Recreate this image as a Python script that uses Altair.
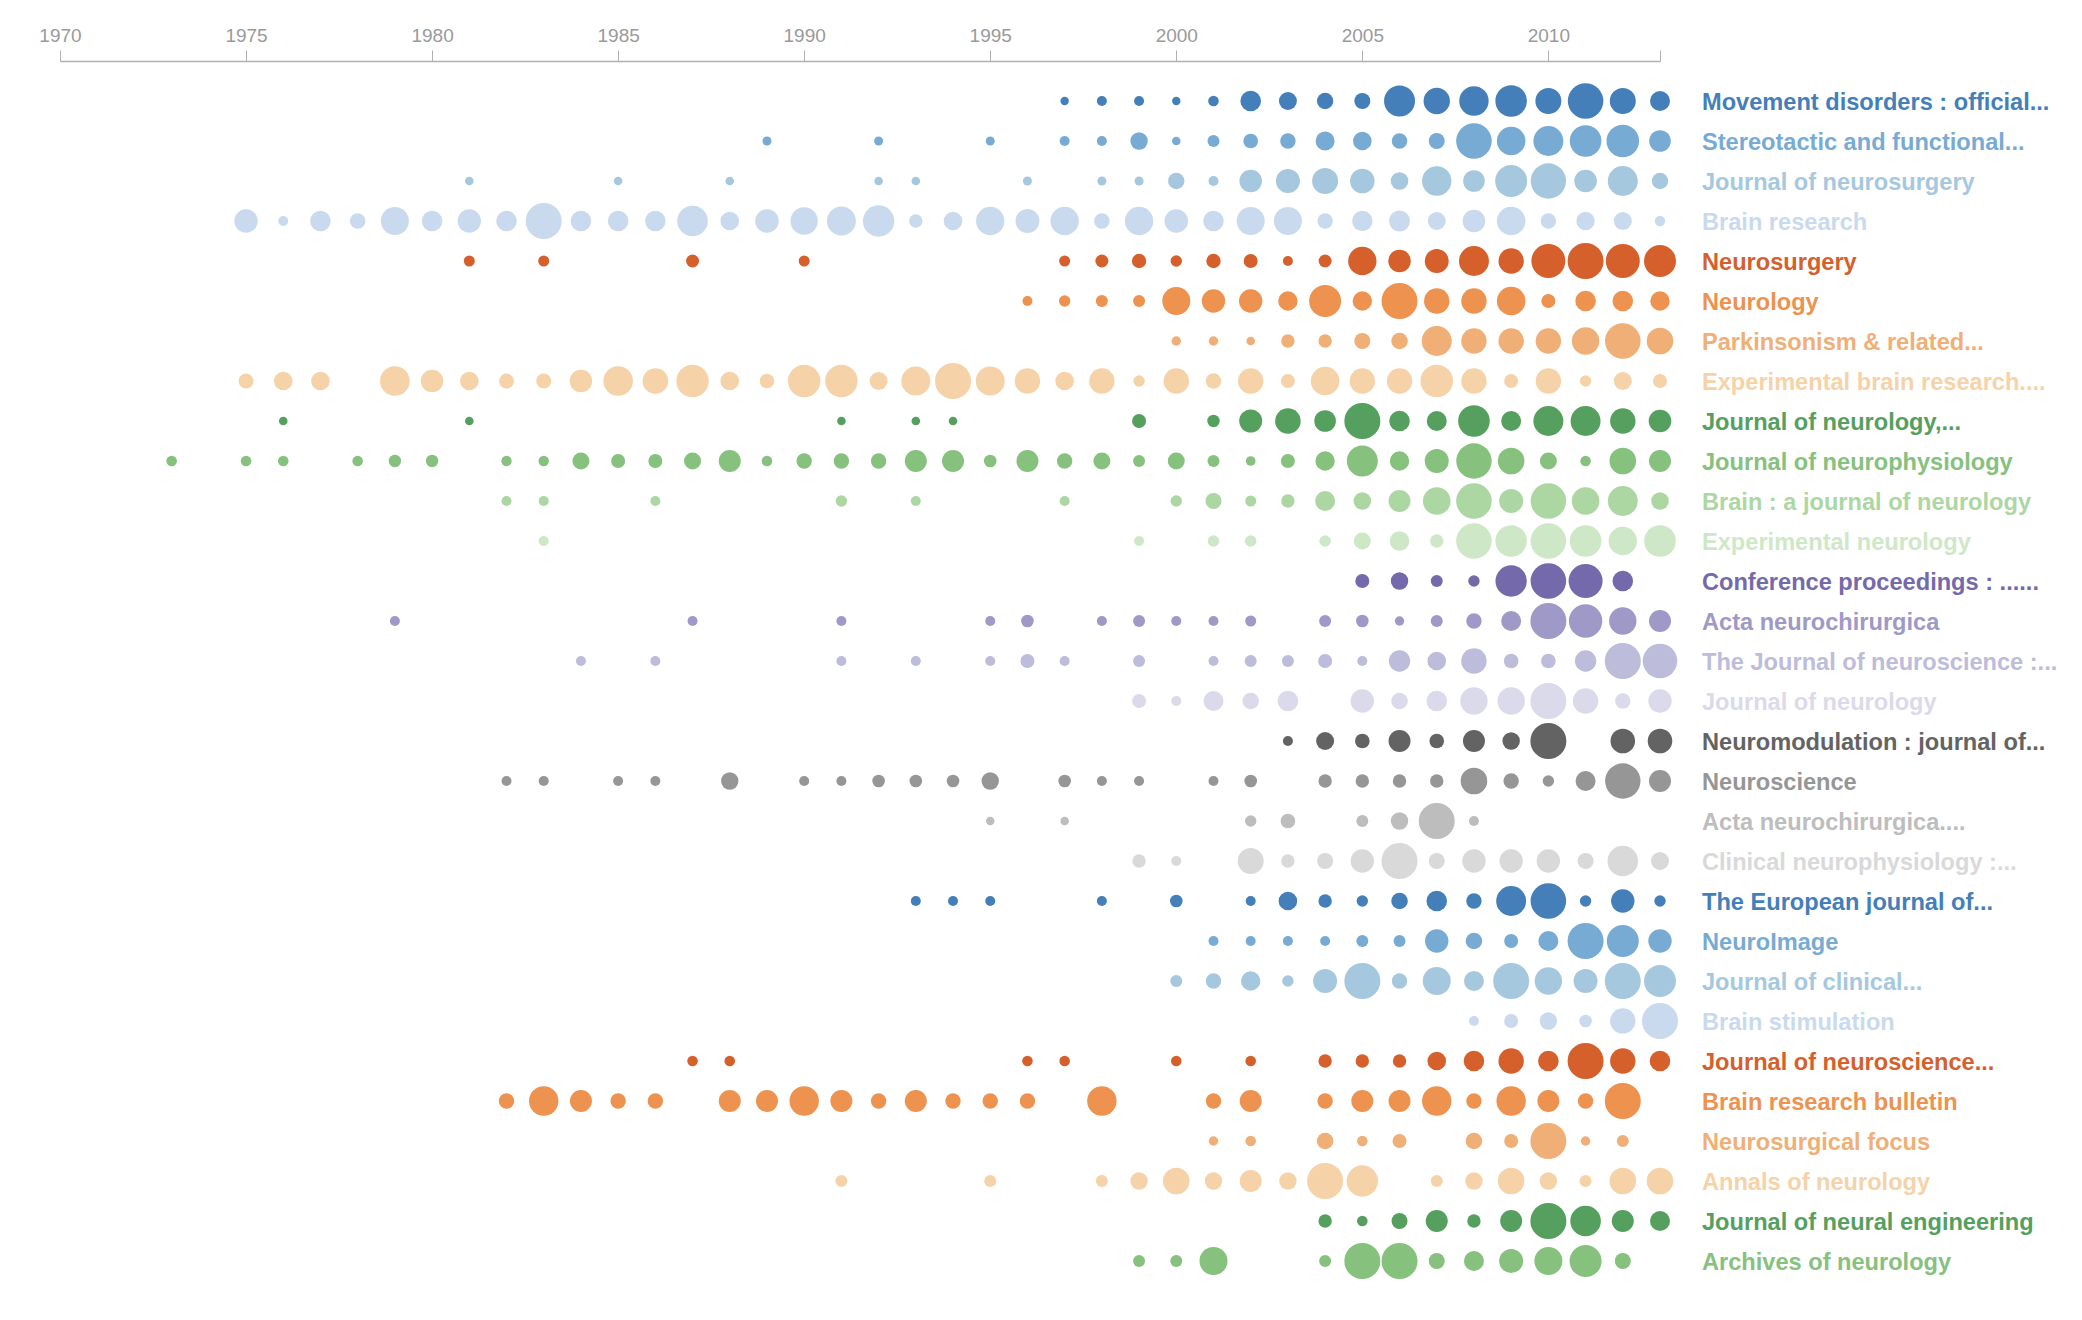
import altair as alt
import pandas as pd

journals = [
    "Movement disorders : official...",
    "Stereotactic and functional...",
    "Journal of neurosurgery",
    "Brain research",
    "Neurosurgery",
    "Neurology",
    "Parkinsonism & related...",
    "Experimental brain research....",
    "Journal of neurology,...",
    "Journal of neurophysiology",
    "Brain : a journal of neurology",
    "Experimental neurology",
    "Conference proceedings : ......",
    "Acta neurochirurgica",
    "The Journal of neuroscience :...",
    "Journal of neurology",
    "Neuromodulation : journal of...",
    "Neuroscience",
    "Acta neurochirurgica....",
    "Clinical neurophysiology :...",
    "The European journal of...",
    "NeuroImage",
    "Journal of clinical...",
    "Brain stimulation",
    "Journal of neuroscience...",
    "Brain research bulletin",
    "Neurosurgical focus",
    "Annals of neurology",
    "Journal of neural engineering",
    "Archives of neurology",
]

colors = [
    "#447fb9", "#78abd3", "#a6c8de", "#cadaee",
    "#d5602c", "#ed924f", "#f0af77", "#f6d2a8",
    "#55a05e", "#86c17e", "#acd7a3", "#cee8c7",
    "#746aab", "#9e99c6", "#bdbcda", "#dbdaea",
    "#636363", "#969696", "#bdbdbd", "#d9d9d9",
    "#447fb9", "#78abd3", "#a6c8de", "#cadaee",
    "#d5602c", "#ed924f", "#f0af77", "#f6d2a8",
    "#55a05e", "#86c17e",
]

# (year, relative article volume) per journal
movement = [(1997,4.2),(1998,5),(1999,5),(2000,4.2),(2001,5.3),(2002,10.3),(2003,9),(2004,8.2),(2005,8),(2006,15.5),(2007,13.2),(2008,14.7),(2009,15.8),(2010,13),(2011,17.8),(2012,13),(2013,10)]
stereotactic = [(1989,4.5),(1992,4.5),(1995,4.5),(1997,5),(1998,5),(1999,8.7),(2000,4.3),(2001,6),(2002,7.3),(2003,7.7),(2004,9.5),(2005,9.3),(2006,7.8),(2007,8),(2008,17.8),(2009,14.3),(2010,15),(2011,15.8),(2012,16.3),(2013,10.8)]
jneurosurg = [(1981,4.3),(1985,4.3),(1988,4.3),(1992,4.3),(1993,4.3),(1996,4.5),(1998,4.5),(1999,4.5),(2000,8.2),(2001,5),(2002,11.3),(2003,12),(2004,13),(2005,12.3),(2006,8.8),(2007,14.7),(2008,10.8),(2009,16),(2010,17.7),(2011,11.3),(2012,15),(2013,8.2)]
brainres = [(1975,11.7),(1976,5),(1977,10.3),(1978,7.8),(1979,14),(1980,10.3),(1981,11.7),(1982,10.3),(1983,18),(1984,10.3),(1985,10.3),(1986,10.3),(1987,15.3),(1988,9.3),(1989,11.8),(1990,13.7),(1991,14.5),(1992,15.7),(1993,6.7),(1994,9.3),(1995,14.2),(1996,12),(1997,14.2),(1998,7.8),(1999,14.2),(2000,11.8),(2001,10.3),(2002,14),(2003,14),(2004,7.7),(2005,10.2),(2006,10.5),(2007,9),(2008,11.3),(2009,14.3),(2010,7.7),(2011,9.2),(2012,9),(2013,5.2)]
neurosurgery = [(1981,5.5),(1983,5.5),(1987,6.5),(1990,5.5),(1997,5.5),(1998,6.5),(1999,7.2),(2000,5.7),(2001,7.2),(2002,7),(2003,5),(2004,6.5),(2005,14.2),(2006,11.3),(2007,12),(2008,15),(2009,12.7),(2010,17),(2011,18),(2012,17),(2013,16)]
neurology = [(1996,5),(1997,5.7),(1998,6),(1999,6),(2000,14),(2001,11.7),(2002,11.7),(2003,9.7),(2004,16),(2005,9.7),(2006,18),(2007,12.7),(2008,12.7),(2009,14.3),(2010,7),(2011,10.3),(2012,10.3),(2013,9.7)]
parkinsonism = [(2000,4.7),(2001,4.7),(2002,4.3),(2003,6.7),(2004,6.7),(2005,8),(2006,8.3),(2007,15),(2008,12.7),(2009,12.7),(2010,12.7),(2011,13.7),(2012,17.8),(2013,13.3)]
expbrain = [(1975,7.5),(1976,9.3),(1977,9.3),(1979,14.8),(1980,11.2),(1981,9.3),(1982,7.5),(1983,7.5),(1984,11.2),(1985,14.8),(1986,12.8),(1987,16.2),(1988,9.3),(1989,7.3),(1990,16.2),(1991,16.2),(1992,9),(1993,14.5),(1994,18),(1995,14.5),(1996,12.7),(1997,9.3),(1998,12.7),(1999,5.7),(2000,12.7),(2001,7.7),(2002,12.7),(2003,7),(2004,14.3),(2005,12.7),(2006,12.7),(2007,16.3),(2008,12.7),(2009,7),(2010,12.7),(2011,5.7),(2012,9),(2013,7)]
jneurology_c = [(1976,4.3),(1981,4.3),(1991,4.3),(1993,4.3),(1994,4.3),(1999,7),(2001,6.2),(2002,11.5),(2003,12.8),(2004,10.8),(2005,18),(2006,10.3),(2007,10),(2008,15.8),(2009,10),(2010,15),(2011,15),(2012,12.7),(2013,11.3)]
jneurophys = [(1973,5.3),(1975,5.3),(1976,5.3),(1978,5.3),(1979,6.2),(1980,6.2),(1982,5.2),(1983,5.2),(1984,8.5),(1985,7),(1986,7),(1987,8.5),(1988,11),(1989,5.3),(1990,7.7),(1991,7.7),(1992,7.7),(1993,11),(1994,11),(1995,6.3),(1996,11),(1997,7.7),(1998,8.5),(1999,6),(2000,8.5),(2001,6),(2002,4.8),(2003,7),(2004,9.7),(2005,15.5),(2006,9.7),(2007,12),(2008,17.7),(2009,13.3),(2010,8.5),(2011,5.3),(2012,13.3),(2013,11)]
brainjournal = [(1982,5),(1983,5),(1986,5),(1991,5.7),(1993,5),(1997,5),(2000,5.7),(2001,8),(2002,5.5),(2003,6.7),(2004,10),(2005,8.8),(2006,11),(2007,13.8),(2008,17.8),(2009,12),(2010,17.8),(2011,13.8),(2012,15),(2013,8.8)]
expneuro = [(1983,5),(1999,5),(2001,5.8),(2002,5.8),(2004,5.8),(2005,8.5),(2006,9.8),(2007,6.7),(2008,17.8),(2009,15.8),(2010,17.8),(2011,15.8),(2012,14.2),(2013,15.8)]
confproc = [(2005,7),(2006,8.7),(2007,6),(2008,5.7),(2009,15.7),(2010,17.8),(2011,17),(2012,10.3)]
acta = [(1979,5),(1987,5),(1991,5),(1995,5),(1996,6.3),(1998,5),(1999,6),(2000,5),(2001,5),(2002,5.5),(2004,6),(2005,6.3),(2006,4.7),(2007,6),(2008,7.7),(2009,10),(2010,18),(2011,16.7),(2012,13.7),(2013,11)]
jneurosci_c = [(1984,5),(1986,5),(1991,5),(1993,5),(1995,5),(1996,7),(1997,5),(1999,6),(2001,5),(2002,6),(2003,6),(2004,7),(2005,5),(2006,10.7),(2007,9.3),(2008,12.7),(2009,7.3),(2010,7.3),(2011,10.7),(2012,18),(2013,17.3)]
jneurology = [(1999,7),(2000,5),(2001,10),(2002,8.3),(2003,10.3),(2005,11.7),(2006,8.3),(2007,10.3),(2008,13.7),(2009,13.7),(2010,18),(2011,12.7),(2012,7.7),(2013,11.7)]
neuromod = [(2003,5),(2004,9),(2005,7.3),(2006,11),(2007,7.3),(2008,11),(2009,8.7),(2010,18),(2012,12.3),(2013,12.3)]
neuroscience = [(1982,5),(1983,5),(1985,5),(1986,5),(1988,8.7),(1990,5),(1991,5),(1992,6.3),(1993,6.3),(1994,6.3),(1995,8.7),(1997,6.3),(1998,5),(1999,5),(2001,5),(2002,6.3),(2004,6.7),(2005,6.7),(2006,6.7),(2007,6.7),(2008,13.3),(2009,7.7),(2010,5.7),(2011,10),(2012,17.7),(2013,11)]
acta2 = [(1995,4.3),(1997,4.3),(2002,5.7),(2003,7.3),(2005,6),(2006,8.7),(2007,18),(2008,5)]
clinneuro = [(1999,6.7),(2000,5),(2002,13),(2003,6.7),(2004,8),(2005,11.7),(2006,18),(2007,8),(2008,11.7),(2009,11.7),(2010,11.7),(2011,8),(2012,15.3),(2013,9)]
eurjournal = [(1993,5),(1994,5),(1995,5),(1998,5),(2000,6.3),(2002,5),(2003,9.3),(2004,6.7),(2005,5.7),(2006,8.3),(2007,10.3),(2008,7.7),(2009,15),(2010,17.8),(2011,5.7),(2012,11.7),(2013,5.7)]
neuroimage = [(2001,5),(2002,5),(2003,5),(2004,5),(2005,6),(2006,6),(2007,11.7),(2008,8.3),(2009,7),(2010,10),(2011,18),(2012,16),(2013,11.7)]
jclinical = [(2000,6),(2001,7.7),(2002,9.7),(2003,5.7),(2004,12),(2005,18),(2006,7.7),(2007,14),(2008,10),(2009,18),(2010,13.7),(2011,12),(2012,18),(2013,16)]
brainstim = [(2008,5),(2009,7),(2010,8.7),(2011,6.3),(2012,12.7),(2013,18)]
jneurosci_d = [(1987,5.3),(1988,5.3),(1996,5.3),(1997,5.3),(2000,5.3),(2002,5.3),(2004,6.7),(2005,6.7),(2006,6.7),(2007,9.3),(2008,10.3),(2009,12.7),(2010,10.3),(2011,18),(2012,12.7),(2013,10.3)]
brbulletin = [(1982,7.7),(1983,14.7),(1984,11),(1985,7.7),(1986,7.7),(1988,11),(1989,11),(1990,14.7),(1991,11),(1992,7.7),(1993,11),(1994,7.7),(1995,7.7),(1996,7.7),(1998,14.7),(2001,7.7),(2002,11),(2004,7.7),(2005,11),(2006,11),(2007,14.7),(2008,7.7),(2009,14.7),(2010,11),(2011,7.7),(2012,18)]
nsfocus = [(2001,4.7),(2002,5.3),(2004,8.3),(2005,5.3),(2006,7),(2008,8.3),(2009,7),(2010,18),(2011,4.7),(2012,6)]
annals = [(1991,6),(1995,6),(1998,6),(1999,8.7),(2000,13.3),(2001,8.7),(2002,11),(2003,8.7),(2004,18),(2005,15.7),(2007,6),(2008,8.7),(2009,13.3),(2010,8.7),(2011,6),(2012,13.3),(2013,13.3)]
neuraleng = [(2004,6.7),(2005,5.3),(2006,8),(2007,11),(2008,6.7),(2009,11),(2010,18),(2011,15.3),(2012,11),(2013,10)]
archives = [(1999,6),(2000,6),(2001,14),(2004,6),(2005,18),(2006,18),(2007,8),(2008,10),(2009,12),(2010,14),(2011,16),(2012,8)]

series = [movement, stereotactic, jneurosurg, brainres, neurosurgery, neurology,
          parkinsonism, expbrain, jneurology_c, jneurophys, brainjournal, expneuro,
          confproc, acta, jneurosci_c, jneurology, neuromod, neuroscience, acta2,
          clinneuro, eurjournal, neuroimage, jclinical, brainstim, jneurosci_d,
          brbulletin, nsfocus, annals, neuraleng, archives]

tick_years = [1970, 1975, 1980, 1985, 1990, 1995, 2000, 2005, 2010, 2013]

rows = []
for name, s in zip(journals, series):
    for yr, v in s:
        rows.append({"journal": name, "year": yr, "value": v})
df = pd.DataFrame(rows)
labels_df = pd.DataFrame({"journal": journals})

FONT = "Liberation Sans"

x_enc = alt.X(
    "year:Q",
    title=None,
    scale=alt.Scale(domain=[1970, 2013], nice=False, zero=False),
    axis=alt.Axis(
        orient="top", values=tick_years, format="d",
        labelExpr="datum.value > 2010 ? '' : datum.label",
        labelFlush=False, labelOverlap=False,
        grid=False, tickSize=11, labelPadding=5,
        labelFont=FONT, labelFontSize=19, labelColor="#9a9a9a",
        domainColor="#b0b0b0", domainWidth=1.5, tickColor="#b0b0b0", tickWidth=1,
    ),
)
y_enc = alt.Y("journal:N", sort=journals, axis=None,
              scale=alt.Scale(type="point", padding=1))
color_enc = alt.Color("journal:N", scale=alt.Scale(domain=journals, range=colors), legend=None)

circles = alt.Chart(df).mark_circle(opacity=1, stroke=None).encode(
    x=x_enc,
    y=y_enc,
    size=alt.Size("value:Q", legend=None,
                  scale=alt.Scale(type="pow", exponent=2, domain=[0, 18], range=[0, 1296])),
    color=color_enc,
)

labels = alt.Chart(labels_df).mark_text(
    align="left", baseline="middle", dx=42, dy=2,
    font=FONT, fontSize=23.6, fontWeight="bold",
).encode(
    x=alt.datum(2013),
    y=y_enc,
    text="journal:N",
    color=color_enc,
)

chart = alt.layer(circles, labels).properties(
    width=1600, height=1240,
    autosize=alt.AutoSizeParams(type="none"),
    padding={"left": 52, "top": 53, "right": 412, "bottom": 5},
).configure_view(stroke=None)

chart.save("out.html", embed_options={"renderer": "svg", "actions": False})
